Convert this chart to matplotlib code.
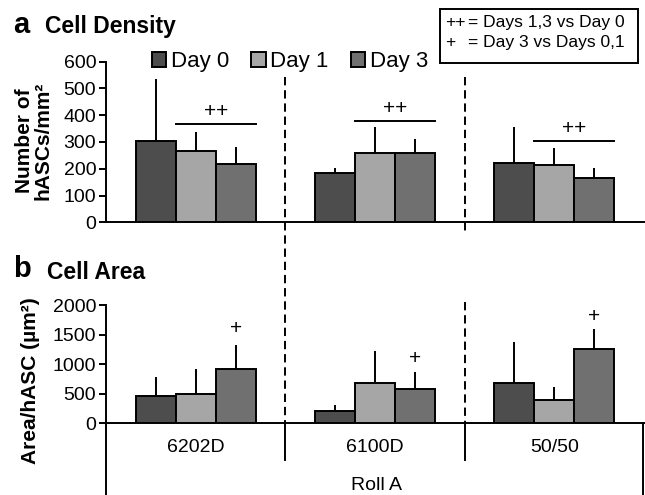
#
# Cell density / cell area bar charts (two panels)
#
import matplotlib
matplotlib.use('Agg')
import matplotlib.pyplot as plt
import matplotlib.transforms as mtransforms
from matplotlib.lines import Line2D
from matplotlib.patches import Rectangle
import numpy as np

plt.rcParams['font.family'] = ['Liberation Sans', 'DejaVu Sans']
plt.rcParams['lines.scale_dashes'] = False

# data
groups = ['6202D', '6100D', '50/50']
days = ['Day 0', 'Day 1', 'Day 3']
colors = ['#4d4d4d', '#a6a6a6', '#707070']

density_mean = {'Day 0': [305, 184, 220], 'Day 1': [265, 258, 214], 'Day 3': [217, 258, 167]}
density_err = {'Day 0': [229, 18, 135], 'Day 1': [72, 97, 65], 'Day 3': [63, 53, 35]}
density_sig = [367, 378, 304]   # height of the "++" bars (Day 1 - Day 3)

area_mean = {'Day 0': [461, 208, 676], 'Day 1': [501, 676, 394], 'Day 3': [912, 580, 1256]}
area_err = {'Day 0': [327, 101, 704], 'Day 1': [417, 552, 225], 'Day 3': [417, 293, 338]}
area_plus = [1606, 1099, 1802]   # "+" marks above Day 3

W, H = 645, 495
fig = plt.figure(figsize=(W / 100, H / 100), dpi=100)

def fy(py):
    return 1 - py / H

ax1 = fig.add_axes([106 / W, fy(222.3), 538 / W, (222.3 - 61.7) / H])
ax2 = fig.add_axes([106 / W, fy(423.3), 538 / W, (423.3 - 305) / H])

x = np.arange(len(groups))
bw = 0.223

def bars(ax, means, errs):
    for i, d in enumerate(days):
        ax.bar(x + (i - 1) * bw, means[d], bw, yerr=[np.zeros(3), errs[d]],
               color=colors[i], edgecolor='black', linewidth=1.4, label=d,
               error_kw=dict(ecolor='black', elinewidth=1.4, capsize=0), zorder=3)
    ax.set_xlim(-0.5, 2.5)
    ax.set_xticks([])
    for s in ['top', 'right']:
        ax.spines[s].set_visible(False)
    ax.spines['left'].set_linewidth(1.4)
    ax.spines['bottom'].set_linewidth(1.4)
    ax.tick_params(axis='y', direction='out', length=5, width=1.4, labelsize=14, pad=2)
    ax.patch.set_alpha(0)

bars(ax1, density_mean, density_err)
ax1.set_ylim(0, 600)
ax1.set_yticks(range(0, 601, 100))

bars(ax2, area_mean, area_err)
ax2.set_ylim(0, 2000)
ax2.set_yticks(range(0, 2001, 500))

# significance marks
for i in range(3):
    ax1.plot([x[i] - bw / 2, x[i] + 1.5 * bw], [density_sig[i]] * 2, color='black', lw=1.4)
    ax1.text(x[i] + bw / 2, density_sig[i] + 12, '++', ha='center', va='bottom', fontsize=15)
    ax2.text(x[i] + bw, area_plus[i], '+', ha='center', va='center', fontsize=15)

# category labels
for i, g in enumerate(groups):
    ax2.text(x[i], fy(447), g, transform=mtransforms.blended_transform_factory(ax2.transData, fig.transFigure),
             ha='center', va='center', fontsize=14)
fig.text(376.7 / W, fy(485), 'Roll A', ha='center', va='center', fontsize=14)

# divider lines
bt = mtransforms.blended_transform_factory(ax1.transData, fig.transFigure)
dash = dict(color='black', lw=1.4, linestyle=(0, (6, 3.5)), transform=bt)
fig.add_artist(Line2D([0.5, 0.5], [fy(77), fy(423.3)], **dash))
fig.add_artist(Line2D([1.5, 1.5], [fy(77), fy(232)], **dash))
fig.add_artist(Line2D([1.5, 1.5], [fy(302), fy(423.3)], **dash))
solid = dict(color='black', lw=1.4, transform=bt)
for xv in [0.5, 1.5]:
    fig.add_artist(Line2D([xv, xv], [fy(423.3), fy(460)], **solid))
for xv in [-0.5, 2.495]:
    fig.add_artist(Line2D([xv, xv], [fy(423.3), 0], **solid))

# panel titles
fig.text(13 / W, fy(33), 'a', fontsize=21, fontweight='bold', va='baseline')
fig.text(45 / W, fy(33), 'Cell Density', fontsize=16.5, fontweight='bold', va='baseline')
fig.text(13 / W, fy(277), 'b', fontsize=21, fontweight='bold', va='baseline')
fig.text(47 / W, fy(279), 'Cell Area', fontsize=16.5, fontweight='bold', va='baseline')

# y labels
ax1.set_ylabel('Number of\nhASCs/mm²', fontsize=15, fontweight='bold', va='center', linespacing=1.0)
ax1.yaxis.set_label_coords(34 / W, fy(141), transform=fig.transFigure)
ax2.set_ylabel('Area/hASC (µm²)', fontsize=15, fontweight='bold', va='center')
ax2.yaxis.set_label_coords(31 / W, fy(381), transform=fig.transFigure)

# legend
ax1.legend(loc='center left', bbox_to_anchor=(152 / W, fy(62)), bbox_transform=fig.transFigure,
           ncol=3, frameon=False, fontsize=16, handlelength=0.65, handleheight=0.65,
           handletextpad=0.2, columnspacing=1.0, borderpad=0, borderaxespad=0)

# key box
fig.add_artist(Rectangle((440 / W, fy(63)), 198 / W, 54 / H, transform=fig.transFigure,
                         fill=False, edgecolor='black', lw=1.4))
fig.text(445 / W, fy(23), '++', fontsize=12.5, va='center')
fig.text(468 / W, fy(23), '= Days 1,3 vs Day 0', fontsize=12.5, va='center')
fig.text(445 / W, fy(43), '+', fontsize=12.5, va='center')
fig.text(468 / W, fy(43), '= Day 3 vs Days 0,1', fontsize=12.5, va='center')

plt.savefig('out.png', dpi=100)
